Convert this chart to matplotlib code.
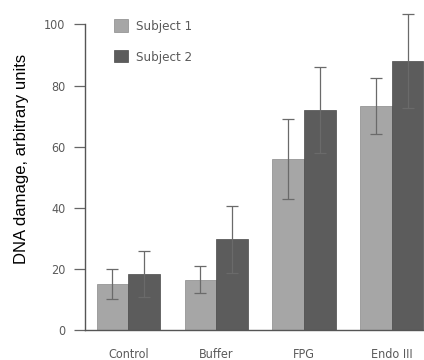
import matplotlib
matplotlib.use("Agg")
import matplotlib.pyplot as plt
from matplotlib import font_manager
import numpy as np

categories = ["Control", "Buffer", "FPG", "Endo III"]
subject1 = [15.0, 16.5, 56.0, 73.3]
subject1_err = [5.0, 4.5, 13.0, 9.3]
subject2 = [18.3, 29.7, 72.0, 88.0]
subject2_err = [7.5, 11.0, 14.0, 15.5]
yticks = [0, 20, 40, 60, 80, 100]

cond = font_manager.FontProperties(family="DejaVu Sans", stretch="condensed", size=9)
cond_x = font_manager.FontProperties(family="DejaVu Sans", stretch="condensed", size=9)
cond_leg = font_manager.FontProperties(family="DejaVu Sans", stretch="condensed", size=9.5)
tick_color = "#5a5a5a"

fig = plt.figure(figsize=(4.24, 3.6), dpi=100)
ax = fig.add_axes([0.2005, 0.0833, 0.7995, 0.9167])

x = np.arange(len(categories))
w = 0.36
ekw = dict(ecolor="#6a6a6a", elinewidth=0.9, capsize=4, capthick=0.9)
ax.bar(x - w / 2, subject1, w, yerr=subject1_err, color="#a6a6a6",
       edgecolor="#8a8a8a", linewidth=0.5, label="Subject 1", error_kw=ekw)
ax.bar(x + w / 2, subject2, w, yerr=subject2_err, color="#5c5c5c",
       edgecolor="#4a4a4a", linewidth=0.5, label="Subject 2", error_kw=ekw)

ax.set_xlim(-0.493, 3.367)
ax.set_ylim(0, 108)
ax.set_yticks(yticks)
ax.set_yticklabels([str(v) for v in yticks], fontproperties=cond, color=tick_color)
ax.set_xticks(x)
ax.set_xticklabels(categories, fontproperties=cond_x, color=tick_color)
ax.tick_params(axis="x", length=0, pad=13)
ax.tick_params(axis="y", length=8, width=0.9, color="#666666", pad=6)

for s in ["top", "right"]:
    ax.spines[s].set_visible(False)
ax.spines["left"].set_bounds(0, 100)
for s in ["left", "bottom"]:
    ax.spines[s].set_color("#555555")
    ax.spines[s].set_linewidth(1.0)

ax.set_ylabel("DNA damage, arbitrary units", fontsize=12,
              family=["Liberation Sans", "DejaVu Sans"])
ax.yaxis.set_label_coords(-0.165, 0.518)

leg = ax.legend(loc="upper left", bbox_to_anchor=(0.05, 0.977), frameon=False,
                prop=cond_leg, handlelength=1.1,
                handleheight=1.1, labelspacing=1.25, handletextpad=0.6)
for t in leg.get_texts():
    t.set_color(tick_color)

fig.savefig("out.png", dpi=100)
